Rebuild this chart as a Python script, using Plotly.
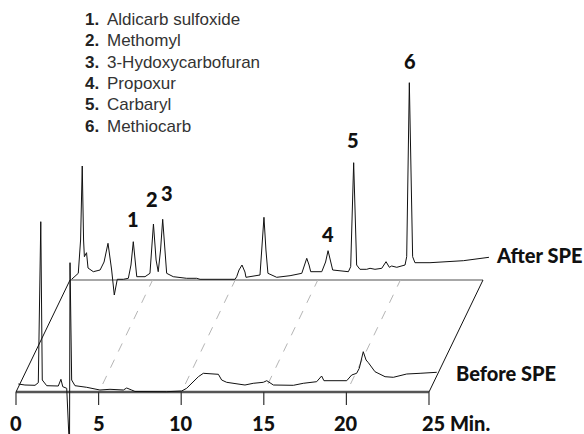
import plotly.graph_objects as go

# ---------------- data ----------------
before_time = [0.14, 0.54, 1.15, 1.35, 1.50, 1.59, 1.86, 2.56, 2.72, 2.83,
               3.07, 3.24, 3.27, 3.37, 3.57, 4.28, 5.08, 5.69, 6.50, 6.70,
               7.00, 7.20, 9.12, 10.03, 10.33, 10.73, 11.04, 11.34, 11.74, 12.25,
               12.45, 12.75, 13.56, 13.86, 14.36, 14.97, 15.18, 15.38, 15.58, 16.79,
               17.39, 18.20, 18.50, 18.64, 19.21, 20.02, 20.32, 20.62, 20.78, 21.02,
               21.19, 21.33, 21.73, 22.34, 22.84, 23.65, 24.46, 25.47]
before_signal = [8, 7, 6.7, 9.3, 170.3, 12, 6.3, 6, 12.7, 5.3,
                 3.7, -58, 129.3, 12, 6.3, 4.7, 2, 2.7, 2, 4,
                 2, 0.5, 0.3, 1, 3.7, 10.3, 15.3, 18.7, 18, 17.7,
                 12, 9.7, 7.7, 7, 8.7, 9.7, 11.3, 8.7, 7, 6.7,
                 8.7, 10.3, 16, 11.3, 11.3, 11.3, 17, 18.7, 23.7, 40.3,
                 32, 29.3, 20.3, 15.3, 14.7, 18, 18.7, 19.7]

after_time = [0.10, 0.36, 0.50, 0.64, 0.74, 0.82, 0.87, 1.00, 1.09, 1.41,
              1.82, 2.06, 2.30, 2.52, 2.68, 2.86, 3.23, 3.53, 3.69, 3.83,
              3.96, 4.04, 4.54, 4.84, 5.05, 5.21, 5.34, 5.48, 5.61, 5.75,
              5.85, 6.25, 7.06, 7.67, 7.87, 9.99, 10.09, 10.23, 10.41, 10.59,
              10.65, 11.50, 11.62, 11.74, 11.86, 11.98, 12.51, 13.32, 14.03, 14.19,
              14.33, 14.47, 14.57, 15.24, 15.47, 15.62, 15.77, 15.90, 16.85, 16.99,
              17.17, 17.35, 17.55, 17.96, 18.16, 18.46, 18.87, 19.13, 19.33, 19.47,
              19.78, 20.28, 20.38, 20.54, 20.74, 20.88, 21.79, 23.81, 25.36]
after_signal = [0.7, 4, 6.7, 40, 114, 40, 23.3, 27.3, 12, 8.3,
                10, 18, 36.7, 10, -15, 0.7, 0.7, 1.7, 15, 38.3,
                15, 3.3, 3.3, 6.7, 56, 20, 8.3, 30, 60.7, 25,
                6.7, 3.3, 1.7, 1.7, 0.7, 0.7, 3.3, 10, 15, 8,
                2.7, 5, 30, 62.7, 30, 6.7, 2.7, 4.3, 6.7, 15,
                21.7, 15, 8.3, 8.3, 18, 29.3, 18, 10, 8.3, 13.3,
                117.3, 15, 10.7, 10.7, 11.7, 10.7, 11.7, 18.3, 12.7, 14,
                12.7, 15, 23.3, 197.3, 23.3, 17.3, 17.3, 19.3, 22.7]

tick_values = [0, 5, 10, 15, 20, 25]
tick_labels = ["0", "5", "10", "15", "20", "25 Min."]

peak_numbers = ["1", "2", "3", "4", "5", "6"]
peak_times = [3.83, 5.05, 5.61, 15.62, 17.17, 20.54]
peak_heights = [38.3, 56, 60.7, 29.3, 117.3, 197.3]

compound_names = ["Aldicarb sulfoxide", "Methomyl", "3-Hydoxycarbofuran",
                  "Propoxur", "Carbaryl", "Methiocarb"]

trace_names = ["Before SPE", "After SPE"]

# ---------------- geometry (pseudo-3D offset of the back plane) ----------------
BACK_DX = 3.27    # minutes of horizontal shift for the rear chromatogram
BACK_DY = 112     # signal units of vertical shift for the rear chromatogram
T_MAX = 25

BOLD_FONT = "Lato, Roboto, sans-serif"
TEXT_FONT = "Liberation Sans, Arial, Helvetica, sans-serif"
INK = "#111111"

fig = go.Figure()

# plane outline
plane = [
    (0, 0, T_MAX, 0, "#555555", 2.5),                                   # front axis
    (BACK_DX, BACK_DY, T_MAX + BACK_DX, BACK_DY, "#8a8a8a", 1.5),        # back edge
    (0, 0, BACK_DX, BACK_DY, INK, 1),                                   # left side
    (T_MAX, 0, T_MAX + BACK_DX, BACK_DY, INK, 1),                       # right side
]
for x0, y0, x1, y1, c, w in plane:
    fig.add_shape(type="line", x0=x0, y0=y0, x1=x1, y1=y1, xref="x", yref="y",
                  line=dict(color=c, width=w), layer="below")

# dashed guide lines and tick marks
for t in tick_values:
    if 0 < t < T_MAX:
        fig.add_shape(type="line", x0=t + 0.25, y0=8, x1=t + BACK_DX, y1=BACK_DY,
                      xref="x", yref="y",
                      line=dict(color="#b5b5b5", width=1, dash="dash"), layer="below")
    fig.add_shape(type="line", x0=t, y0=0, x1=t, y1=-13, xref="x", yref="y",
                  line=dict(color="#333333", width=1.2))

# chromatograms
fig.add_trace(go.Scatter(x=before_time, y=before_signal, mode="lines",
                         line=dict(color=INK, width=1), name=trace_names[0],
                         hoverinfo="skip"))
fig.add_trace(go.Scatter(x=[t + BACK_DX for t in after_time],
                         y=[s + BACK_DY for s in after_signal], mode="lines",
                         line=dict(color=INK, width=1), name=trace_names[1],
                         hoverinfo="skip"))

annotations = []
# tick labels
for t, lab in zip(tick_values, tick_labels):
    last = lab != lab.split(" ")[0]
    annotations.append(dict(x=t, y=-31, xref="x", yref="y", text=lab,
                            showarrow=False, xanchor="left" if last else "center",
                            yanchor="middle", xshift=-8 if last else 0, borderpad=0,
                            font=dict(family=BOLD_FONT, size=20, color=INK, weight=900)))

# peak number labels
label_shift = [(0, 9), (-1, 11), (4, 12), (0, 3), (-1, 9), (1, 8)]
for num, t, h, (dx, dy) in zip(peak_numbers, peak_times, peak_heights, label_shift):
    annotations.append(dict(x=t + BACK_DX, y=h + BACK_DY, xref="x", yref="y",
                            text=num, showarrow=False, xanchor="center",
                            yanchor="bottom", xshift=dx, yshift=dy,
                            font=dict(family=BOLD_FONT, size=20, color=INK, weight=900)))

# trace labels
annotations.append(dict(x=T_MAX + 1.5, y=19, xref="x", yref="y", text=trace_names[0],
                        showarrow=False, xanchor="left", yanchor="middle",
                        font=dict(family=BOLD_FONT, size=20, color=INK, weight=900)))
annotations.append(dict(x=T_MAX + BACK_DX + 0.66, y=BACK_DY + 25, xref="x", yref="y",
                        text=trace_names[1], showarrow=False, xanchor="left",
                        yanchor="middle",
                        font=dict(family=BOLD_FONT, size=20, color=INK, weight=900)))

# compound list
H = 434.0
for i, name in enumerate(compound_names):
    yc = 1 - (19.5 + 21.35 * i) / H
    annotations.append(dict(x=83 / 584, y=yc, xref="paper", yref="paper",
                            text=f"{peak_numbers[i]}.", showarrow=False,
                            xanchor="left", yanchor="middle",
                            font=dict(family=TEXT_FONT, size=17, color="#222222",
                                      weight="bold")))
    annotations.append(dict(x=105 / 584, y=yc, xref="paper", yref="paper",
                            text=name, showarrow=False, xanchor="left",
                            yanchor="middle",
                            font=dict(family=TEXT_FONT, size=17, color="#333333")))

fig.update_layout(
    width=584, height=434,
    margin=dict(l=0, r=0, t=0, b=0),
    paper_bgcolor="white", plot_bgcolor="white",
    showlegend=False,
    xaxis=dict(range=[-0.9685, 34.383], visible=False, fixedrange=True),
    yaxis=dict(range=[-42, 392], visible=False, fixedrange=True),
    annotations=annotations,
)

fig.write_html("out.html")
